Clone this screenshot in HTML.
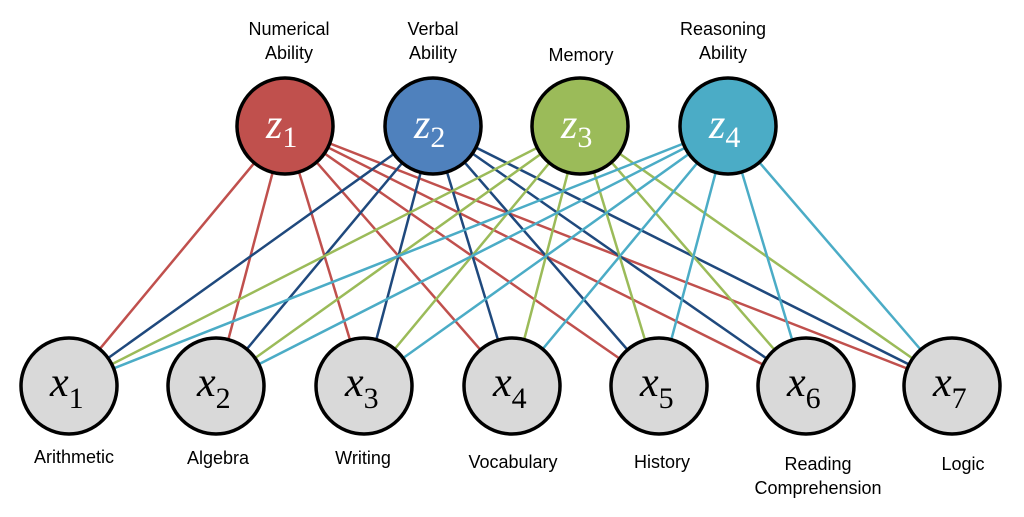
<!DOCTYPE html>
<html><head><style>
html,body{margin:0;padding:0;background:#fff;}
svg{display:block}
.l{font-family:"Liberation Sans",sans-serif;font-size:18px;fill:#000;text-anchor:middle}
.m{font-family:"Liberation Serif",serif;font-size:42px}
</style></head><body>
<svg width="1024" height="517" viewBox="0 0 1024 517" xmlns="http://www.w3.org/2000/svg">
<g stroke-width="2.5" fill="none">
<g stroke="#c0504d">
<line x1="285" y1="126" x2="69" y2="386"/><line x1="285" y1="126" x2="216" y2="386"/><line x1="285" y1="126" x2="364" y2="386"/><line x1="285" y1="126" x2="512" y2="386"/><line x1="285" y1="126" x2="659" y2="386"/><line x1="285" y1="126" x2="806" y2="386"/><line x1="285" y1="126" x2="952" y2="386"/>
</g>
<g stroke="#1f497d">
<line x1="433" y1="126" x2="69" y2="386"/><line x1="433" y1="126" x2="216" y2="386"/><line x1="433" y1="126" x2="364" y2="386"/><line x1="433" y1="126" x2="512" y2="386"/><line x1="433" y1="126" x2="659" y2="386"/><line x1="433" y1="126" x2="806" y2="386"/><line x1="433" y1="126" x2="952" y2="386"/>
</g>
<g stroke="#9bbb59">
<line x1="580" y1="126" x2="69" y2="386"/><line x1="580" y1="126" x2="216" y2="386"/><line x1="580" y1="126" x2="364" y2="386"/><line x1="580" y1="126" x2="512" y2="386"/><line x1="580" y1="126" x2="659" y2="386"/><line x1="580" y1="126" x2="806" y2="386"/><line x1="580" y1="126" x2="952" y2="386"/>
</g>
<g stroke="#4bacc6">
<line x1="728" y1="126" x2="69" y2="386"/><line x1="728" y1="126" x2="216" y2="386"/><line x1="728" y1="126" x2="364" y2="386"/><line x1="728" y1="126" x2="512" y2="386"/><line x1="728" y1="126" x2="659" y2="386"/><line x1="728" y1="126" x2="806" y2="386"/><line x1="728" y1="126" x2="952" y2="386"/>
</g>
</g>
<g stroke="#000" stroke-width="3.5">
<circle cx="285" cy="126" r="48" fill="#c0504d"/>
<circle cx="433" cy="126" r="48" fill="#4f81bd"/>
<circle cx="580" cy="126" r="48" fill="#9bbb59"/>
<circle cx="728" cy="126" r="48" fill="#4bacc6"/>
<g fill="#d9d9d9">
<circle cx="69" cy="386" r="48"/><circle cx="216" cy="386" r="48"/><circle cx="364" cy="386" r="48"/><circle cx="512" cy="386" r="48"/><circle cx="659" cy="386" r="48"/><circle cx="806" cy="386" r="48"/><circle cx="952" cy="386" r="48"/>
</g>
</g>
<g class="m" fill="#fff">
<text x="266" y="138"><tspan font-style="italic">z</tspan><tspan font-size="30" dy="9">1</tspan></text>
<text x="414" y="138"><tspan font-style="italic">z</tspan><tspan font-size="30" dy="9">2</tspan></text>
<text x="561" y="138"><tspan font-style="italic">z</tspan><tspan font-size="30" dy="9">3</tspan></text>
<text x="709" y="138"><tspan font-style="italic">z</tspan><tspan font-size="30" dy="9">4</tspan></text>
</g>
<g class="m" fill="#000">
<text x="50" y="396"><tspan font-style="italic">x</tspan><tspan font-size="30" dy="12">1</tspan></text>
<text x="197" y="396"><tspan font-style="italic">x</tspan><tspan font-size="30" dy="12">2</tspan></text>
<text x="345" y="396"><tspan font-style="italic">x</tspan><tspan font-size="30" dy="12">3</tspan></text>
<text x="493" y="396"><tspan font-style="italic">x</tspan><tspan font-size="30" dy="12">4</tspan></text>
<text x="640" y="396"><tspan font-style="italic">x</tspan><tspan font-size="30" dy="12">5</tspan></text>
<text x="787" y="396"><tspan font-style="italic">x</tspan><tspan font-size="30" dy="12">6</tspan></text>
<text x="933" y="396"><tspan font-style="italic">x</tspan><tspan font-size="30" dy="12">7</tspan></text>
</g>
<text class="l" x="289" y="35">Numerical</text><text class="l" x="289" y="59">Ability</text>
<text class="l" x="433" y="35">Verbal</text><text class="l" x="433" y="59">Ability</text>
<text class="l" x="581" y="61">Memory</text>
<text class="l" x="723" y="35">Reasoning</text><text class="l" x="723" y="59">Ability</text>
<text class="l" x="74" y="463">Arithmetic</text>
<text class="l" x="218" y="464">Algebra</text>
<text class="l" x="363" y="464">Writing</text>
<text class="l" x="513" y="468">Vocabulary</text>
<text class="l" x="662" y="468">History</text>
<text class="l" x="818" y="470">Reading</text><text class="l" x="818" y="494">Comprehension</text>
<text class="l" x="963" y="470">Logic</text>
</svg>
</body></html>
